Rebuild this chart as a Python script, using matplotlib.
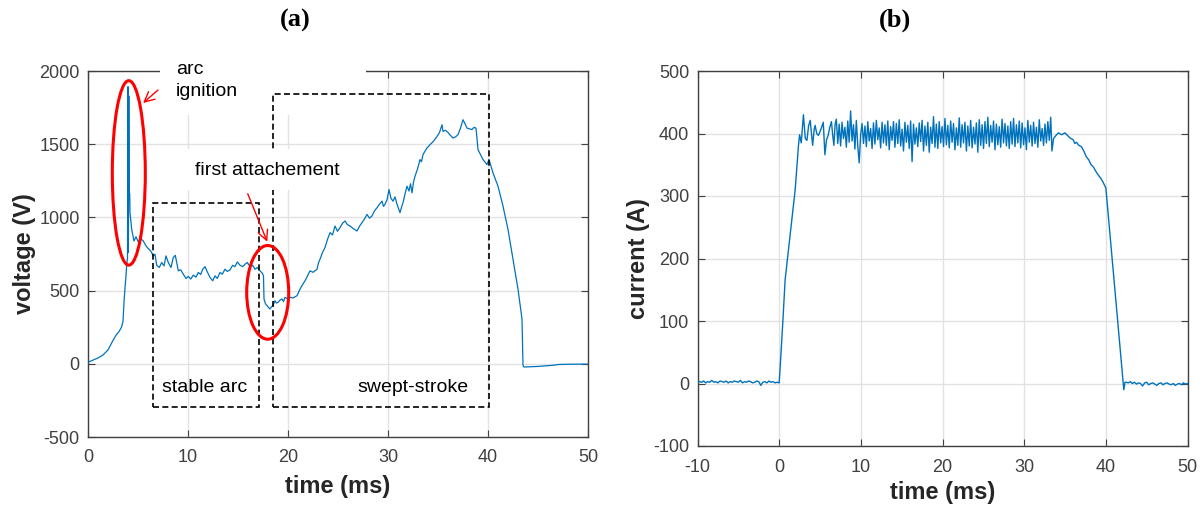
import numpy as np
import matplotlib
matplotlib.use("Agg")
import matplotlib.pyplot as plt
from matplotlib.patches import Ellipse, Rectangle

plt.rcParams['font.family'] = ['Liberation Sans', 'DejaVu Sans']
plt.rcParams['axes.unicode_minus'] = False

# ---------------- data: panel (a) voltage ----------------
volt_t = [0, 0.5, 1.0, 1.5, 2.0, 2.5, 2.8, 3.1, 3.35, 3.5,
          3.6, 3.7, 3.8, 3.87, 3.95, 4.0, 4.04, 4.08, 4.12, 4.17,
          4.2, 4.37, 4.6, 4.8, 5.03, 5.27, 5.53, 5.8, 6.03, 6.27,
          6.53, 6.7, 6.87, 7.13, 7.37, 7.6, 7.8, 8.03, 8.3, 8.53,
          8.73, 8.87, 9.03, 9.27, 9.53, 9.8, 10.03, 10.27, 10.53, 10.8,
          11.03, 11.27, 11.47, 11.7, 11.93, 12.2, 12.47, 12.7, 12.93, 13.2,
          13.43, 13.7, 13.93, 14.2, 14.47, 14.7, 14.93, 15.2, 15.47, 15.7,
          15.93, 16.2, 16.47, 16.7, 16.93, 17.2, 17.43, 17.55, 17.6, 17.75,
          17.9, 18.05, 18.2, 18.35, 18.5, 18.7, 18.85, 19.0, 19.2, 19.4,
          19.55, 19.7, 19.95, 20.2, 20.5, 20.9, 21.2, 21.45, 21.7, 21.95,
          22.2, 22.5, 22.9, 23.05, 23.2, 23.45, 23.7, 23.95, 24.2, 24.45,
          24.7, 24.95, 25.2, 25.45, 25.7, 25.95, 26.2, 26.5, 26.9, 27.15,
          27.4, 27.65, 27.9, 28.15, 28.4, 28.65, 28.9, 29.15, 29.4, 29.55,
          29.7, 29.9, 30.1, 30.3, 30.5, 30.7, 30.9, 31.05, 31.2, 31.35,
          31.5, 31.7, 31.9, 32.1, 32.25, 32.4, 32.55, 32.7, 32.95, 33.2,
          33.35, 33.5, 33.85, 34.2, 34.55, 34.9, 35.15, 35.4, 35.5, 35.75,
          36.0, 36.25, 36.5, 36.75, 37.0, 37.25, 37.5, 37.7, 37.9, 38.15,
          38.4, 38.6, 38.8, 39.0, 39.5, 39.9, 40.1, 40.5, 41.0, 41.5,
          42.0, 42.5, 43.0, 43.4, 43.5, 43.6, 45.0, 46.5, 47.0, 48.0,
          50.0]
volt_v = [10, 25, 40, 60, 95, 160, 195, 220, 250, 290,
          420, 520, 600, 680, 720, 1893, 760, 1830, 1180, 1160,
          1032, 918, 839, 868, 832, 855, 839, 805, 787, 771,
          737, 748, 673, 658, 692, 669, 737, 692, 658, 726,
          741, 692, 635, 642, 612, 583, 597, 579, 606, 592,
          624, 610, 646, 664, 628, 590, 567, 601, 583, 624,
          612, 646, 631, 642, 673, 664, 696, 673, 664, 680,
          692, 664, 673, 646, 658, 635, 619, 600, 443, 410,
          397, 385, 374, 390, 397, 431, 415, 420, 435, 443,
          425, 454, 445, 454, 450, 465, 510, 540, 567, 600,
          635, 625, 646, 690, 714, 760, 794, 850, 896, 880,
          941, 905, 930, 960, 975, 950, 941, 925, 907, 940,
          964, 990, 1020, 995, 1010, 1045, 1066, 1090, 1111, 1075,
          1090, 1120, 1190, 1130, 1111, 1140, 1090, 1060, 1032, 1070,
          1100, 1160, 1213, 1180, 1230, 1168, 1240, 1281, 1330, 1395,
          1380, 1429, 1470, 1497, 1520, 1553, 1580, 1633, 1588, 1595,
          1580, 1560, 1542, 1550, 1565, 1610, 1667, 1640, 1610, 1605,
          1600, 1615, 1610, 1463, 1395, 1361, 1395, 1304, 1213, 1077,
          918, 714, 510, 306, -11, -22, -18, -10, -5, -3,
          -2]

# ---------------- data: panel (b) current ----------------
cur_pre_noise = [1, 3, 2, 4, 1, 3, 2, 5, 2, 3, 1, 4, 3, 2, 4, 1, 3, 2, 4, 3,
                 2, 5, 1, 3, 2, 4, 3, 1, 2, 4, 3, -3, 2, 3, 1, 4, 2, 3, 1, 2]
cur_rise_t = [0.0, 0.2, 0.45, 0.73, 1.96, 2.36, 2.5, 2.7, 2.97, 3.2, 3.4, 3.6, 3.8, 4.0,
              4.1, 4.3, 4.4, 4.6, 4.8, 5.0, 5.2, 5.4, 5.6, 5.8, 6.0, 6.2, 6.4, 6.55, 6.7, 6.85]
cur_rise_v = [1, 43, 99, 166, 310, 380, 398, 385, 430, 392, 389, 412, 421, 395,
              381, 408, 413, 400, 397, 403, 410, 418, 366, 390, 397, 410, 419, 398, 381, 415]
cur_plateau = [423, 384, 415, 380, 418, 392, 410, 378, 420, 386,
               436, 388, 414, 375, 421, 380, 353, 398, 416, 384,
               412, 379, 419, 388, 408, 376, 417, 383, 421, 390,
               409, 377, 418, 385, 414, 381, 420, 374, 411, 389,
               419, 378, 416, 384, 422, 380, 407, 372, 418, 386,
               413, 376, 420, 355, 415, 383, 409, 379, 417, 387,
               421, 372, 412, 381, 418, 370, 410, 384, 427, 378,
               415, 376, 419, 385, 411, 379, 424, 382, 413, 377,
               420, 386, 416, 374, 409, 381, 425, 378, 414, 385,
               418, 372, 412, 380, 421, 377, 410, 383, 417, 370,
               422, 381, 414, 376, 419, 384, 426, 379, 413, 386,
               420, 374, 415, 382, 411, 378, 423, 385, 416, 380,
               412, 376, 419, 383, 424, 379, 414, 385, 420, 377,
               417, 382, 409, 374, 421, 386, 413, 380, 418, 384,
               410, 378, 422, 388, 408, 381, 415, 385, 419, 389,
               426]
cur_fall_t = [33.4, 33.6, 33.9, 34.2, 34.6, 35.0, 35.3, 35.6, 36.0, 36.2, 36.4, 36.7,
              37.0, 37.3, 37.6, 37.9, 38.2, 38.5, 38.8, 39.1, 39.4, 39.7, 40.0,
              42.1, 42.2, 42.35]
cur_fall_v = [372, 392, 397, 401, 398, 401, 397, 393, 390, 384, 386, 381,
              379, 372, 363, 358, 350, 346, 339, 333, 328, 321, 313,
              3, -10, 2]
cur_post_noise = [2, 1, 3, 0, 2, -1, 1, 0, -4, 1, 2, -2, 0, 1, -1, -3,
                  0, 1, -2, 0, 1, -1, -2, 0, -3, -1, 0, -2, 1, -1, 0]

# assemble current series (sample grids)
pre_t = -10 + 0.25 * np.arange(len(cur_pre_noise))
plat_t = 7.0 + 0.175 * np.arange(len(cur_plateau))
post_t = 42.5 + 0.25 * np.arange(len(cur_post_noise))
cur_t = np.concatenate([pre_t, cur_rise_t, plat_t, cur_fall_t, post_t])
cur_v = np.concatenate([cur_pre_noise, cur_rise_v, cur_plateau, cur_fall_v, cur_post_noise])

# ---------------- style ----------------
BLUE = '#0072BD'
AXC = '#404040'
GRID = '#e2e2e2'
TICK_FS = 13
LAB_FS = 17

fig = plt.figure(figsize=(12.02, 5.08), dpi=100)
W, H = 1202.0, 508.0

def px_axes(l, t, r, b):
    return fig.add_axes([l / W, 1 - b / H, (r - l) / W, (b - t) / H])

axA = px_axes(88, 71, 588, 437)
axB = px_axes(697.5, 71, 1187.5, 446)

def style(ax):
    ax.set_axisbelow(True)
    ax.grid(True, color=GRID, linewidth=1.0)
    for s in ax.spines.values():
        s.set_color(AXC)
        s.set_linewidth(1.0)
    ax.tick_params(direction='in', length=5, width=0.8, colors=AXC,
                   labelsize=TICK_FS, top=True, right=True)
    ax.tick_params(axis='x', pad=9)
    ax.tick_params(axis='y', pad=6)

# ---------------- panel (a) ----------------
style(axA)
axA.plot(volt_t, volt_v, color=BLUE, lw=0.9, zorder=3)
axA.set_xlim(0, 50)
axA.set_ylim(-500, 2000)
axA.set_xticks([0, 10, 20, 30, 40, 50])
axA.set_yticks([-500, 0, 500, 1000, 1500, 2000])
axA.set_xlabel('time (ms)', fontsize=LAB_FS, fontweight='bold', color='#262626')
axA.set_ylabel('voltage (V)', fontsize=LAB_FS, fontweight='bold', color='#262626')
axA.xaxis.label.set_va('center')
axA.yaxis.label.set_va('center')
axA.xaxis.set_label_coords(0.5, (437 - 487) / 366.0)
axA.yaxis.set_label_coords((24 - 88) / 500.0, 0.5)

# white text boxes hiding spine/grid
axA.add_patch(Rectangle((7.2, 1700), 20.6, 380, facecolor='white', edgecolor='none',
                        zorder=3.2, clip_on=False))
axA.add_patch(Rectangle((9.5, 1190), 16.7, 275, facecolor='white', edgecolor='none',
                        zorder=4.5))

dash = (0, (3.6, 2.0))
axA.add_patch(Rectangle((6.47, -295), 17.1 - 6.47, 1100 + 295, fill=False,
                        edgecolor='black', lw=1.2, linestyle=dash, zorder=4))
axA.add_patch(Rectangle((18.47, -295), 40.07 - 18.47, 1841 + 295, fill=False,
                        edgecolor='black', lw=1.2, linestyle=dash, zorder=4))

axA.add_patch(Ellipse((4.08, 1304), 3.3, 1260, fill=False, edgecolor='red', lw=2.2, zorder=5))
axA.add_patch(Ellipse((17.97, 488), 4.2, 640, fill=False, edgecolor='red', lw=2.2, zorder=5))

axA.annotate('', xy=(5.3, 1769), xytext=(7.2, 1882),
             arrowprops=dict(arrowstyle='->', color='red', lw=1.0, mutation_scale=18),
             zorder=6, annotation_clip=False)
axA.annotate('', xy=(18.03, 816), xytext=(15.87, 1179),
             arrowprops=dict(arrowstyle='->', color='red', lw=1.0, mutation_scale=18),
             zorder=6)

ann_fs = 14
axA.text(8.8, 2007, 'arc', fontsize=ann_fs, va='center', ha='left', zorder=6, clip_on=False)
axA.text(8.8, 1859, 'ignition', fontsize=ann_fs, va='center', ha='left', zorder=6)
axA.text(10.7, 1322, 'first attachement', fontsize=ann_fs, va='center', ha='left', zorder=6)
axA.text(7.4, -165, 'stable arc', fontsize=ann_fs, va='center', ha='left', zorder=6)
axA.text(26.9, -165, 'swept-stroke', fontsize=ann_fs, va='center', ha='left', zorder=6)

# ---------------- panel (b) ----------------
style(axB)
axB.plot(cur_t, cur_v, color=BLUE, lw=1.0, zorder=3)
axB.set_xlim(-10, 50)
axB.set_ylim(-100, 500)
axB.set_xticks([-10, 0, 10, 20, 30, 40, 50])
axB.set_yticks([-100, 0, 100, 200, 300, 400, 500])
axB.set_xlabel('time (ms)', fontsize=LAB_FS, fontweight='bold', color='#262626')
axB.set_ylabel('current (A)', fontsize=LAB_FS, fontweight='bold', color='#262626')
axB.xaxis.label.set_va('center')
axB.yaxis.label.set_va('center')
axB.xaxis.set_label_coords(0.5, (446 - 493) / 375.0)
axB.yaxis.set_label_coords((638 - 697.5) / 490.0, 0.5)

# panel titles
fig.text(295 / W, 1 - 20 / H, '(a)', fontsize=19, fontweight='bold',
         family='Liberation Serif', ha='center', va='center')
fig.text(895 / W, 1 - 20 / H, '(b)', fontsize=19, fontweight='bold',
         family='Liberation Serif', ha='center', va='center')

fig.savefig('out.png', dpi=100)
